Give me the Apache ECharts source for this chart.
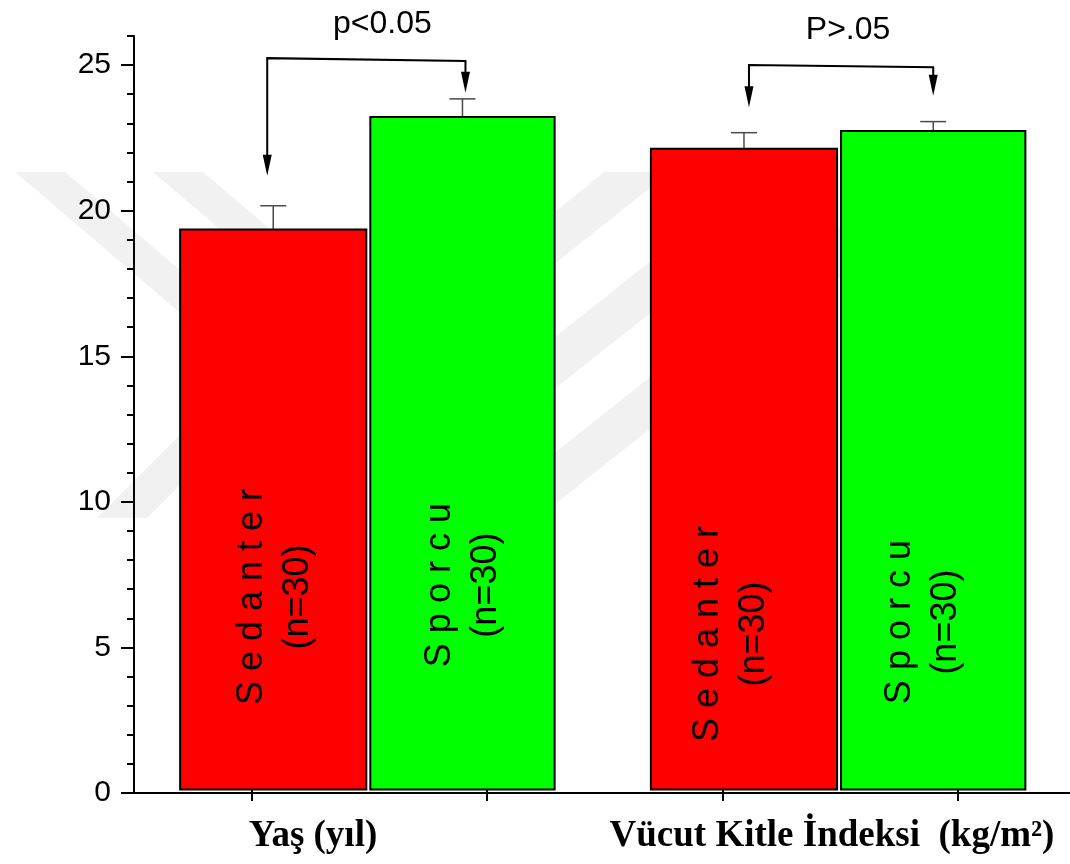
<!DOCTYPE html>
<html><head><meta charset="utf-8">
<script src="https://cdn.jsdelivr.net/npm/echarts@6/dist/echarts.min.js"></script>
<style>html,body{margin:0;padding:0;background:#fff}#c{width:1070px;height:864px}</style>
</head><body><div id="c"></div>
<script>
// ---- data ----
const groups = ['Yaş (yıl)', 'Vücut Kitle İndeksi  (kg/m²)'];
const seriesNames = ['Sedanter', 'Sporcu'];
const seriesLabels = ['S e d a n t e r', 'S p o r c u'];
const nLabels = ['(n=30)', '(n=30)'];
const sedanterMeans = [19.35, 22.13];
const sedanterErrors = [0.82, 0.55];
const sporcuMeans = [23.22, 22.74];
const sporcuErrors = [0.62, 0.32];
const yTickValues = [0, 5, 10, 15, 20, 25];
const xTickValues = [1, 2, 3, 4];
const pTexts = ['p<0.05', 'P>.05'];
const bracketTops = [[25.24, 25.14], [25.0, 24.93]];
const arrowTips = [[21.2, 24.05], [23.55, 23.95]];

// ---- layout (not data) ----
const L = {
  groupCenter: g => 1.5 + 2 * g,
  barSpan: [[-0.804, -0.013], [0.004, 0.787]],
  barBase: 0.12,
  barColors: ['#ff0000', '#00ff00'],
  labelDx: [[2, 1], [-13, -10]],
  labelY: [[6.73, 7.14], [5.46, 5.87]],
  arrowDx: [[-6, 3], [5, 0]],
  pTextDx: [16, 7],
  pTextY: [26.42, 26.2]
};

const chart = echarts.init(document.getElementById('c'), null, {renderer: 'canvas'});

function barRender(sIdx) {
  return function (params, api) {
    const g = api.value(0), v = api.value(1), e = api.value(2);
    const c = L.groupCenter(g);
    const pl = api.coord([c + L.barSpan[sIdx][0], L.barBase]);
    const pr = api.coord([c + L.barSpan[sIdx][1], v]);
    const cx = (pl[0] + pr[0]) / 2;
    const pe = api.coord([c, v + e]);
    const ly = api.coord([c, L.labelY[g][sIdx]])[1];
    return {
      type: 'group',
      children: [
        {type: 'line', shape: {x1: cx, y1: pr[1], x2: cx, y2: pe[1]}, style: {stroke: '#4a4a4a', lineWidth: 1.5}},
        {type: 'line', shape: {x1: cx - 13, y1: pe[1], x2: cx + 13, y2: pe[1]}, style: {stroke: '#4a4a4a', lineWidth: 1.5}},
        {type: 'rect', shape: {x: pl[0], y: pr[1], width: pr[0] - pl[0], height: pl[1] - pr[1]},
          style: {fill: L.barColors[sIdx], stroke: '#000', lineWidth: 2}},
        {type: 'text', x: cx + L.labelDx[g][sIdx], y: ly, rotation: Math.PI / 2,
          style: {text: seriesLabels[sIdx] + '\n' + nLabels[g], font: '36px "Liberation Sans", Arial, sans-serif',
            fill: '#000', align: 'center', verticalAlign: 'middle', lineHeight: 46}}
      ]
    };
  };
}

function annRender(params, api) {
  const i = params.dataIndex;
  const c = L.groupCenter(i);
  const xl = api.coord([c + (L.barSpan[0][0] + L.barSpan[0][1]) / 2, 0])[0] + L.arrowDx[i][0];
  const xr = api.coord([c + (L.barSpan[1][0] + L.barSpan[1][1]) / 2, 0])[0] + L.arrowDx[i][1];
  const yl = api.coord([c, bracketTops[i][0]])[1];
  const yr = api.coord([c, bracketTops[i][1]])[1];
  const tl = api.coord([c, arrowTips[i][0]])[1];
  const tr = api.coord([c, arrowTips[i][1]])[1];
  const ty = api.coord([c, L.pTextY[i]])[1];
  const head = (x, t) => ({type: 'polygon', shape: {points: [[x - 4.5, t - 21], [x + 4.5, t - 21], [x, t]]}, style: {fill: '#000'}});
  return {
    type: 'group',
    children: [
      {type: 'polyline', shape: {points: [[xl, tl - 18], [xl, yl], [xr, yr], [xr, tr - 18]]}, style: {stroke: '#000', lineWidth: 2, fill: null}},
      head(xl, tl), head(xr, tr),
      {type: 'text', x: (xl + xr) / 2 + L.pTextDx[i], y: ty,
        style: {text: pTexts[i], font: '32px "Liberation Sans", Arial, sans-serif', fill: '#000', align: 'center', verticalAlign: 'middle'}}
    ]
  };
}

const wm = '#f1f1f1';
function band(pts) { return {type: 'polygon', z: -10, shape: {points: pts}, style: {fill: wm}}; }

const option = {
  backgroundColor: '#ffffff',
  animation: false,
  grid: {left: 134, width: 941.5, top: 36, bottom: 71, containLabel: false, outerBoundsMode: 'none'},
  xAxis: [
    {type: 'value', position: 'bottom', min: 0.5, max: 4.5,
      axisLine: {show: true, lineStyle: {color: '#000', width: 2}},
      axisTick: {show: true, customValues: xTickValues, length: 8, inside: false, lineStyle: {color: '#000', width: 2}},
      axisLabel: {show: false}, splitLine: {show: false}},
    {type: 'value', position: 'bottom', min: 0.5, max: 4.5,
      axisLine: {show: false},
      axisTick: {show: true, customValues: xTickValues, length: 7, inside: true, lineStyle: {color: '#000', width: 2}},
      axisLabel: {show: false}, splitLine: {show: false}}
  ],
  yAxis: [
    {type: 'value', position: 'left', min: 0, max: 26,
      axisLine: {show: true, lineStyle: {color: '#000', width: 2}},
      axisTick: {show: true, customValues: yTickValues, length: 13, lineStyle: {color: '#000', width: 2}},
      axisLabel: {show: true, customValues: yTickValues, margin: 23, color: '#000',
        fontSize: 30, fontFamily: '"Liberation Sans", Arial, sans-serif'},
      splitLine: {show: false}},
    {type: 'value', position: 'left', min: 0, max: 26, interval: 1,
      axisLine: {show: false},
      axisTick: {show: true, length: 7, lineStyle: {color: '#000', width: 2}},
      axisLabel: {show: false}, splitLine: {show: false}}
  ],
  graphic: [
    band([[15, 172], [65, 172], [262, 340], [212, 340]]),
    band([[153, 172], [203, 172], [306, 260], [256, 260]]),
    band([[97, 518], [147, 518], [265, 400], [215, 400]]),
    band([[605, 172], [670, 172], [544, 272], [479, 272]]),
    band([[763, 172], [828, 172], [538, 402], [473, 402]]),
    band([[909, 172], [974, 172], [540, 516], [475, 516]]),
    {type: 'text', z: 100, style: {x: 313, y: 836, text: groups[0], font: 'bold 37px "Liberation Serif", "Times New Roman", serif', fill: '#000', align: 'center', verticalAlign: 'middle'}},
    {type: 'text', z: 100, style: {x: 832, y: 836, text: groups[1], font: 'bold 37px "Liberation Serif", "Times New Roman", serif', fill: '#000', align: 'center', verticalAlign: 'middle'}}
  ],
  series: [
    {type: 'custom', name: seriesNames[0], coordinateSystem: 'cartesian2d', xAxisIndex: 0, yAxisIndex: 0, clip: false,
      renderItem: barRender(0), data: sedanterMeans.map((v, g) => [g, v, sedanterErrors[g]])},
    {type: 'custom', name: seriesNames[1], coordinateSystem: 'cartesian2d', xAxisIndex: 0, yAxisIndex: 0, clip: false,
      renderItem: barRender(1), data: sporcuMeans.map((v, g) => [g, v, sporcuErrors[g]])},
    {type: 'custom', name: 'annotations', coordinateSystem: 'cartesian2d', xAxisIndex: 0, yAxisIndex: 0, clip: false,
      renderItem: annRender, data: pTexts.map((t, i) => [i, bracketTops[i][0]])}
  ]
};
chart.setOption(option);
</script></body></html>
